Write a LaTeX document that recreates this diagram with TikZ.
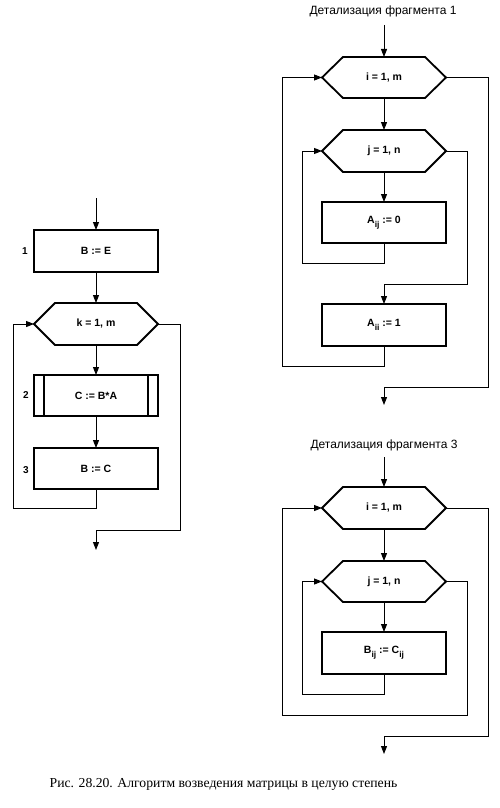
\documentclass[tikz,border=0pt]{standalone}
\usepackage{fontspec}
\setmainfont{Liberation Sans}
\newfontfamily\capfont{Liberation Serif}
\usetikzlibrary{arrows.meta}
\newcommand\sbs[1]{\raisebox{-0.7ex}{\fontsize{8.5}{8.5}\selectfont #1}}
\begin{document}
\begin{tikzpicture}[x=1pt,y=-1pt,
  every node/.style={outer sep=0pt,inner sep=0pt},
  blk/.style={draw,line width=1.8pt,minimum width=124pt,minimum height=42pt,font=\fontsize{10.5}{12}\selectfont\bfseries},
  hexn/.style={minimum width=124pt,minimum height=42pt,font=\fontsize{10.5}{12}\selectfont\bfseries},
  hexline/.style={line width=1.8pt,line join=miter},
  lbl/.style={font=\fontsize{10}{12}\selectfont\bfseries},
  ttl/.style={font=\fontsize{12}{14}\selectfont},
  arr/.style={line width=1pt,-{Triangle[length=8pt,width=6pt]}},
  ln/.style={line width=1pt}]
\useasboundingbox (0,0) rectangle (500,808);
\newcommand\hexdraw[1]{\draw[hexline] (#1.west) -- ([xshift=21pt]#1.north west) -- ([xshift=-21pt]#1.north east) -- (#1.east) -- ([xshift=-21pt]#1.south east) -- ([xshift=21pt]#1.south west) -- cycle;}
% ---------- left diagram ----------
\coordinate (Lin) at (96,198);
\node[blk] (b1) at (96,251) {B := E};
\node[lbl] (n1) at (25,251) {1};
\node[hexn] (k) at (96,324) {k = 1, m};
\hexdraw{k}
\node[blk,minimum height=41pt] (b2) at (96,395.5) {C := B*A};
\draw[line width=1.8pt] ([xshift=10pt]b2.north west) -- ([xshift=10pt]b2.south west)
  ([xshift=-10pt]b2.north east) -- ([xshift=-10pt]b2.south east);
\node[lbl] (n2) at (26,395) {2};
\node[blk,minimum height=41pt] (b3) at (96,468.5) {B := C};
\node[lbl] (n3) at (26,470) {3};
\coordinate (Lout) at (96,550);
\draw[arr] (Lin) -- (b1);
\draw[arr] (b1) -- (k);
\draw[arr] (k) -- (b2);
\draw[arr] (b2) -- (b3);
\draw[arr] (b3.south) -- (96,508) -- (13,508) -- (13,324) -- (k.west);
\draw[arr] (k.east) -- (180,324) -- (180,530) -- (96,530) -- (Lout);
% ---------- fragment 1 ----------
\node[ttl] (t1) at (383,11) {Детализация фрагмента 1};
\coordinate (Rin1) at (384,25);
\node[hexn,minimum height=41pt] (i1) at (384,77.5) {i = 1, m};
\hexdraw{i1}
\node[hexn] (j1) at (384,151) {j = 1, n};
\hexdraw{j1}
\node[blk,minimum height=41pt] (a0) at (384,222.5) {A\sbs{ij} := 0};
\node[blk] (a1) at (384,325) {A\sbs{ii}\ := 1};
\coordinate (Rout1) at (384,405);
\draw[arr] (Rin1) -- (i1);
\draw[arr] (i1) -- (j1);
\draw[arr] (j1) -- (a0);
\draw[arr] (a0.south) -- (384,263) -- (302,263) -- (302,151) -- (j1.west);
\draw[arr] (j1.east) -- (467,151) -- (467,284) -- (384,284) -- (a1.north);
\draw[arr] (a1.south) -- (384,366) -- (282,366) -- (282,77.5) -- (i1.west);
\draw[arr] (i1.east) -- (488,77.5) -- (488,387) -- (384,387) -- (Rout1);
% ---------- fragment 3 ----------
\node[ttl] (t3) at (384,445) {Детализация фрагмента 3};
\coordinate (Rin3) at (384,457);
\node[hexn] (i3) at (384,508) {i = 1, m};
\hexdraw{i3}
\node[hexn,minimum height=41pt] (j3) at (384,581.5) {j = 1, n};
\hexdraw{j3}
\node[blk] (bb) at (384,653) {B\sbs{ij} := C\sbs{ij}};
\coordinate (Rout3) at (384,754);
\draw[arr] (Rin3) -- (i3);
\draw[arr] (i3) -- (j3);
\draw[arr] (j3) -- (bb);
\draw[arr] (bb.south) -- (384,694) -- (302,694) -- (302,581.5) -- (j3.west);
\draw[arr] (j3.east) -- (467,581.5) -- (467,715) -- (282,715) -- (282,508) -- (i3.west);
\draw[arr] (i3.east) -- (488,508) -- (488,736) -- (384,736) -- (Rout3);
% ---------- caption ----------
\node[font=\capfont\fontsize{13.7}{16}\selectfont] (cap) at (223.5,784) {Рис. 28.20. Алгоритм возведения матрицы в целую степень};
\end{tikzpicture}
\end{document}
